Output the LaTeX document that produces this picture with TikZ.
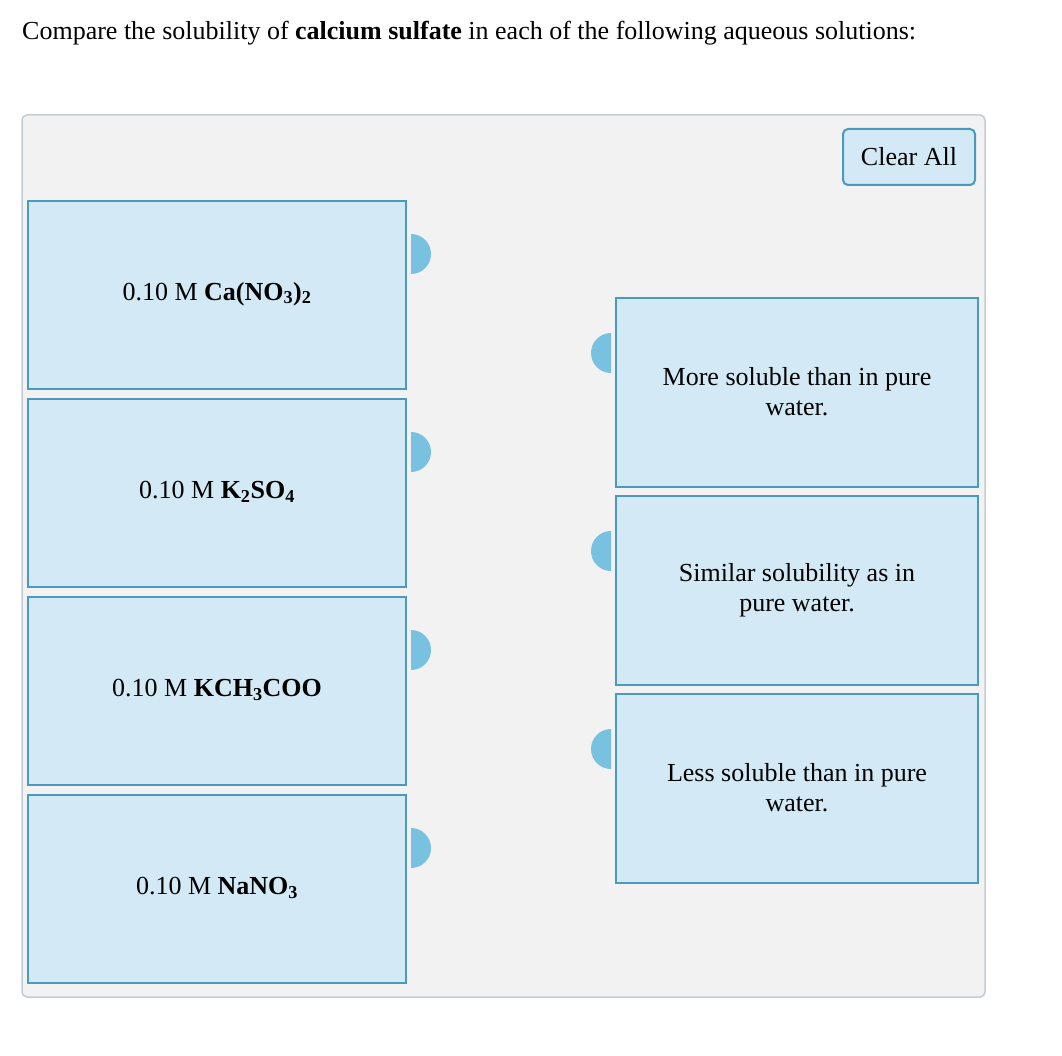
\documentclass[tikz,border=0pt]{standalone}
\usepackage{fontspec}
\setmainfont{Liberation Serif}
\begin{document}
\begin{tikzpicture}[x=1pt,y=-1pt,
  card/.style={draw=boxline,fill=boxfill,line width=2pt},
  knob/.style={fill=knobc},
  lab/.style={font=\fontsize{26}{30}\selectfont,align=center,inner sep=0}]
\definecolor{boxline}{HTML}{4A9AC0}
\definecolor{boxfill}{HTML}{D3EAF6}
\definecolor{knobc}{HTML}{78C1E0}
\definecolor{panel}{HTML}{F2F2F2}
\definecolor{panelline}{HTML}{C4CCD4}
\useasboundingbox (0,0) rectangle (1062,1056);
\fill[white] (0,0) rectangle (1062,1056);
\node[lab,anchor=west] (title) at (22,33) {Compare the solubility of \textbf{calcium sulfate} in each of the following aqueous solutions:};
\draw[panelline,fill=panel,line width=1.5pt,rounded corners=5pt] (22,115) rectangle (985,997);
\draw[card,rounded corners=5pt] (843,129) rectangle (975,185);
\node[lab] (clear) at (909,157) {Clear All};
% left cards
\foreach \i/\t in {0/{0.10 M \textbf{Ca(NO\textsubscript{3})\textsubscript{2}}},1/{0.10 M \textbf{K\textsubscript{2}SO\textsubscript{4}}},2/{0.10 M \textbf{KCH\textsubscript{3}COO}},3/{0.10 M \textbf{NaNO\textsubscript{3}}}}{
  \draw[card] (28,201+198*\i) rectangle (406,389+198*\i);
  \node[lab] (L\i) at (217,294+198*\i) {\t};
  \fill[knobc] (411,274+198*\i) arc (90:-90:20) -- cycle;
}
% right cards
\foreach \i/\t in {0/{More soluble than in pure\\water.},1/{Similar solubility as in\\pure water.},2/{Less soluble than in pure\\water.}}{
  \draw[card] (616,298+198*\i) rectangle (978,487+198*\i);
  \node[lab] (R\i) at (797,392+198*\i) {\t};
  \fill[knobc] (611,373+198*\i) arc (90:270:20) -- cycle;
}
\end{tikzpicture}
\end{document}
